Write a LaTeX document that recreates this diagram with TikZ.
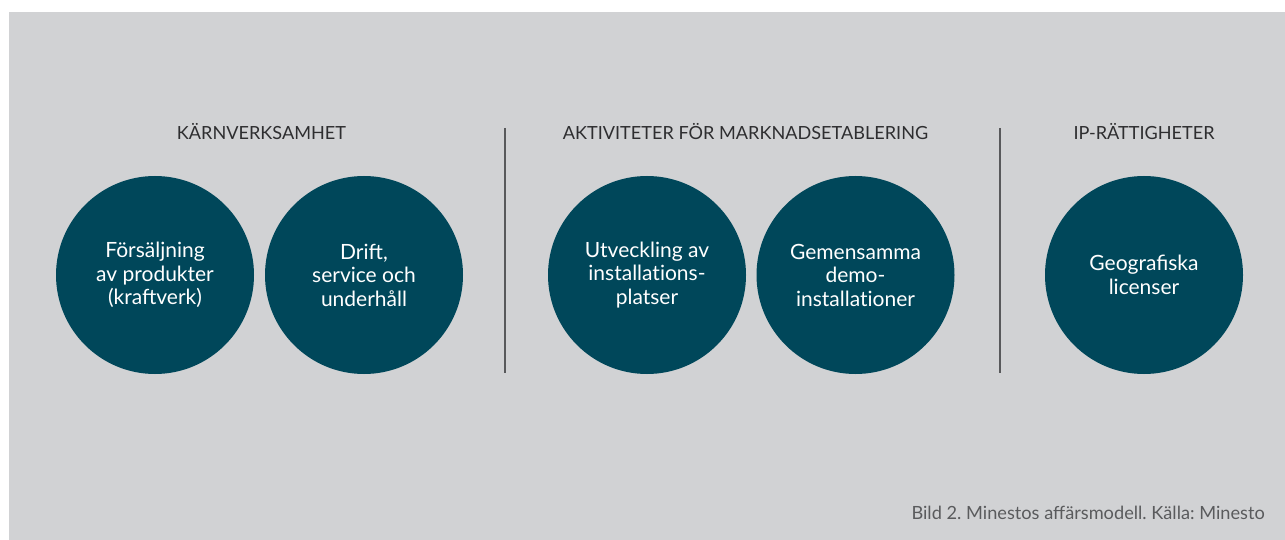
\documentclass[tikz,border=0pt]{standalone}
\usepackage{fontspec}
\setmainfont{Lato}
\frenchspacing
\definecolor{bggray}{HTML}{D1D2D4}
\definecolor{teal}{HTML}{00475A}
\definecolor{titlegray}{HTML}{2E2E30}
\definecolor{capgray}{HTML}{5A5B5D}
\definecolor{linegray}{HTML}{58595B}
\newcommand{\nolig}{\kern0pt }
\tikzset{
  bubble/.style={circle, fill=teal, draw=none, minimum size=198pt, inner sep=0pt,
    text=white, align=center, font=\fontsize{21}{23.5}\selectfont},
  heading/.style={anchor=base, text=titlegray, inner sep=0pt, font=\fontsize{18.1}{20}\selectfont},
  divider/.style={draw=linegray, line width=1.1pt},
}
\begin{document}
\begin{tikzpicture}[x=1pt,y=-1pt]
\useasboundingbox (0,0) rectangle (1285,540);
\fill[white] (0,0) rectangle (1285,540);
\fill[bggray] (9,12) rectangle (1285,540);

\node[heading] (t1) at (261.5,140) {KÄRNVERKSAMHET};
\node[heading] (t2) at (745.5,140) {AKTIVITETER FÖR MARKNADSETABLERING};
\node[heading] (t3) at (1144,140) {IP-RÄTTIGHETER};

\node[bubble] (c1) at (155,275) {Försäljning\\av produkter\\(kraftverk)};
\node[bubble] (c2) at (364,275) {Drift,\\service och\\underhåll};
\node[bubble] (c3) at (647,275) {Utveckling av\\installat\nolig ions-\\platser};
\node[bubble] (c4) at (855.5,275) {Gemensamma\\demo-\\installat\nolig ioner};
\node[bubble] (c5) at (1144,275) {Geografiska\\licenser};

\coordinate (d1a) at (505,128);
\coordinate (d1b) at (505,373);
\coordinate (d2a) at (1000,128);
\coordinate (d2b) at (1000,373);
\draw[divider] (d1a) -- (d1b);
\draw[divider] (d2a) -- (d2b);

\node[anchor=base east, inner sep=0pt, text=capgray, font=\fontsize{18.2}{20}\selectfont] (cap) at (1265,519)
  {Bild 2. Minestos affärsmodell. Källa: Minesto};
\end{tikzpicture}
\end{document}
